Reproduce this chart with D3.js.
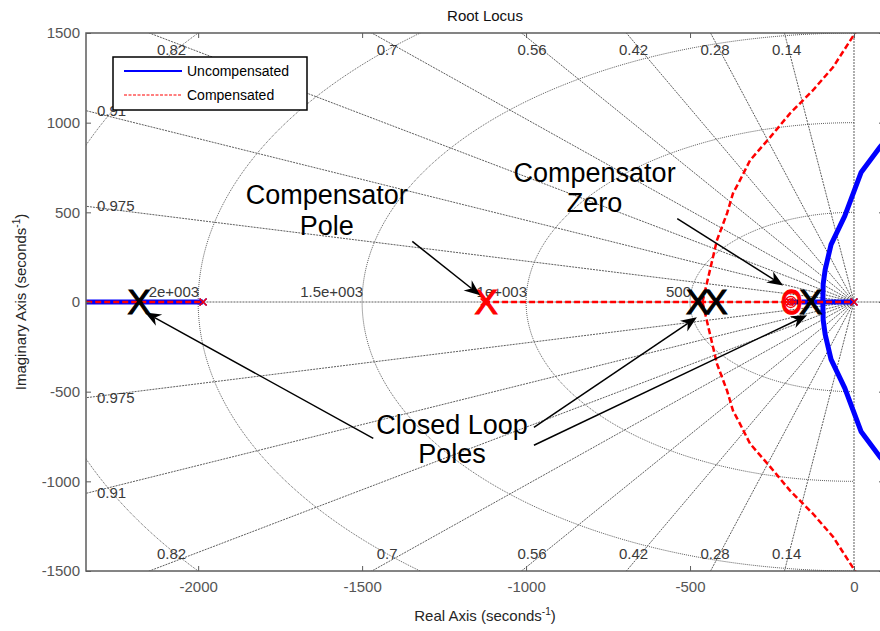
<!DOCTYPE html>
<html><head><meta charset="utf-8">
<script src="https://cdn.jsdelivr.net/npm/d3@7"></script>
<style>
body{margin:0;background:#fff}
text{font-family:"Liberation Sans",Arial,Helvetica,sans-serif}
</style>
</head><body>
<svg id="chart" width="880" height="631"></svg>
<script>
// ---------- data ----------
const xTicks = [-2000, -1500, -1000, -500, 0];
const yTicks = [-1500, -1000, -500, 0, 500, 1000, 1500];
const xTickLabels = ["-2000", "-1500", "-1000", "-500", "0"];
const yTickLabels = ["-1500", "-1000", "-500", "0", "500", "1000", "1500"];
const dampingValues = [0.14, 0.28, 0.42, 0.56, 0.7, 0.82, 0.91, 0.975];
const dampingTopLabels = [0.14, 0.28, 0.42, 0.56, 0.7, 0.82];
const dampingSideLabels = [0.91, 0.975];
const wnValues = [500, 1000, 1500, 2000, 2500];
const wnLabelValues = [500, 1000, 1500, 2000];
const wnLabelTexts = ["500", "1e+003", "1.5e+003", "2e+003"];

// uncompensated root locus (upper branch; lower branch is its mirror)
const uncompRealSegments = [[-3000, -1985], [-196, 0]];
const uncompBranchUpper = [[-95, 0], [-94, 100], [-88, 180], [-70, 320], [-28, 480], [22, 724], [80, 866], [130, 960]];
const uncompPoles = [0, -196, -1985];

// compensated root locus
const compRealSegments = [[-3000, -1985], [-1128, 0]];
const compBranchUpper = [[-462, 0], [-448, 110], [-418, 344], [-387, 495], [-369, 606], [-348, 678], [-317, 790],
  [-256, 918], [-195, 1052], [-125, 1181], [-64, 1309], [3, 1499], [15, 1530]];
const compPoles = [0, -196, -1128, -1985];
const compZeros = [-193];

// annotations (data coordinates)
const closedLoopPoles = [-2180, -477, -421, -131];
const compensatorPoleMark = [-1122];
const compensatorZeroMark = [-190];
const annotationTexts = [
  {lines: ["Compensator", "Pole"], x: -1608, y: [544, 372]},
  {lines: ["Compensator", "Zero"], x: -791, y: [668, 500]},
  {lines: ["Closed Loop", "Poles"], x: -1226, y: [-738, -900]}
];
const arrows = [
  [[-1347, 338], [-1140, 37]],
  [[-539, 465], [-216, 92]],
  [[-1466, -760], [-2162, -58]],
  [[-976, -699], [-479, -85]],
  [[-976, -799], [-143, -74]]
];
const legendItems = ["Uncompensated", "Compensated"];

// ---------- layout ----------
const svg = d3.select("#chart");
const plot = {left: 86, right: 884, top: 33, bottom: 571};
const x = d3.scaleLinear().domain([-2342, 91.5]).range([plot.left, plot.right]);
const y = d3.scaleLinear().domain([-1500, 1500]).range([plot.bottom, plot.top]);

svg.append("rect").attr("width", 880).attr("height", 631).attr("fill", "#fff");
svg.append("defs").append("clipPath").attr("id", "clip")
  .append("rect").attr("x", plot.left).attr("y", plot.top)
  .attr("width", plot.right - plot.left).attr("height", plot.bottom - plot.top);

const grid = svg.append("g").attr("clip-path", "url(#clip)");
const gridStyle = s => s.attr("fill", "none").attr("stroke", "#5e5e5e").attr("stroke-width", 1).attr("stroke-dasharray", "2,1");

// damping lines
const R = 6000;
dampingValues.forEach(z => {
  const s = Math.sqrt(1 - z * z);
  [1, -1].forEach(sg => {
    grid.append("line").attr("x1", x(0)).attr("y1", y(0))
      .attr("x2", x(-R * z)).attr("y2", y(sg * R * s)).call(gridStyle);
  });
});
grid.append("line").attr("x1", x(-R)).attr("x2", x(R)).attr("y1", y(0)).attr("y2", y(0)).call(gridStyle);
grid.append("line").attr("x1", x(0)).attr("x2", x(0)).attr("y1", y(-R)).attr("y2", y(R)).call(gridStyle);

// natural frequency circles
const arc = d3.line().x(d => x(d[0])).y(d => y(d[1]));
wnValues.forEach(wn => {
  const pts = d3.range(90, 270.01, 1).map(a => [wn * Math.cos(a * Math.PI / 180), wn * Math.sin(a * Math.PI / 180)]);
  grid.append("path").attr("d", arc(pts)).call(gridStyle).attr("stroke-dasharray", "1,1");
});

// grid labels
const lab = svg.append("g").attr("font-size", 15).attr("fill", "#3a3a3a");
wnLabelValues.forEach((wn, i) => {
  lab.append("text").attr("x", x(-wn) + 1).attr("y", y(0) - 5).attr("text-anchor", "end").text(wnLabelTexts[i]);
});
dampingTopLabels.forEach(z => {
  const k = z / Math.sqrt(1 - z * z);
  const yt = y.invert(plot.top + 8.5);
  lab.append("text").attr("x", x(-yt * k)).attr("y", plot.top + 22).attr("text-anchor", "middle").text(z);
  lab.append("text").attr("x", x(-yt * k)).attr("y", plot.bottom - 12.5).attr("text-anchor", "middle").text(z);
});
dampingSideLabels.forEach(z => {
  const t = Math.sqrt(1 - z * z) / z;
  const yl = -x.invert(plot.left) * t;
  lab.append("text").attr("x", plot.left + 11).attr("y", y(yl) + 5).text(z);
  lab.append("text").attr("x", plot.left + 11).attr("y", y(-yl) + 5).text(z);
});

// ---------- loci ----------
const data = svg.append("g").attr("clip-path", "url(#clip)");
const mirror = pts => pts.map(p => [p[0], -p[1]]);
const path = d3.line().x(d => x(d[0])).y(d => y(d[1]));

const blue = s => s.attr("fill", "none").attr("stroke", "#0000ff").attr("stroke-width", 5).attr("stroke-linejoin", "round");
uncompRealSegments.forEach(seg => data.append("path").attr("d", path([[seg[0], 0], [seg[1], 0]])).call(blue));
[uncompBranchUpper, mirror(uncompBranchUpper)].forEach(b => data.append("path").attr("d", path(b)).call(blue));

function xMark(g, px, color) {
  const s = 3.5, cx = x(px), cy = y(0);
  g.append("path").attr("d", `M${cx - s},${cy - s}L${cx + s},${cy + s}M${cx - s},${cy + s}L${cx + s},${cy - s}`)
    .attr("stroke", color).attr("stroke-width", 1.5).attr("fill", "none");
}
uncompPoles.forEach(p => xMark(data, p, "#0000ff"));

const red = s => s.attr("fill", "none").attr("stroke", "#ff0000").attr("stroke-width", 2.5).attr("stroke-dasharray", "6,3");
compRealSegments.forEach(seg => data.append("path").attr("d", path([[seg[0], 0], [seg[1], 0]])).call(red));
[compBranchUpper, mirror(compBranchUpper)].forEach(b => data.append("path").attr("d", path(b)).call(red));
compPoles.forEach(p => xMark(data, p, "#ff0000"));
compZeros.forEach(zr => {
  [5.5, 3].forEach(r => data.append("circle").attr("cx", x(zr)).attr("cy", y(0)).attr("r", r)
    .attr("fill", "none").attr("stroke", "#ff0000").attr("stroke-width", 1.3));
});

// ---------- annotations ----------
const ann = svg.append("g");
const bigFont = 35;
closedLoopPoles.forEach(p => ann.append("text").attr("x", x(p)).attr("y", y(0) + 11.5)
  .attr("text-anchor", "middle").attr("font-size", bigFont).attr("fill", "#000")
  .attr("stroke", "#000").attr("stroke-width", 1.1).text("X"));
compensatorPoleMark.forEach(p => ann.append("text").attr("x", x(p)).attr("y", y(0) + 11.5)
  .attr("text-anchor", "middle").attr("font-size", bigFont).attr("fill", "#ff0000")
  .attr("stroke", "#ff0000").attr("stroke-width", 1.1).text("X"));
compensatorZeroMark.forEach(p => ann.append("text")
  .attr("transform", `translate(${x(p)},${y(0) + 11.5}) scale(0.78,1)`)
  .attr("text-anchor", "middle").attr("font-size", bigFont).attr("fill", "#ff0000")
  .attr("stroke", "#ff0000").attr("stroke-width", 1.4).text("O"));

annotationTexts.forEach(a => a.lines.forEach((l, i) => ann.append("text")
  .attr("x", x(a.x)).attr("y", y(a.y[i])).attr("text-anchor", "middle")
  .attr("font-size", 27).attr("fill", "#000").text(l)));

function arrow(g, d0, d1) {
  const p0 = [x(d0[0]), y(d0[1])], p1 = [x(d1[0]), y(d1[1])];
  const dx = p1[0] - p0[0], dy = p1[1] - p0[1], len = Math.hypot(dx, dy);
  const ux = dx / len, uy = dy / len, nx = -uy, ny = ux;
  const L = 16, Wd = 6.5, N = 11;
  g.append("line").attr("x1", p0[0]).attr("y1", p0[1]).attr("x2", p1[0] - ux * N).attr("y2", p1[1] - uy * N)
    .attr("stroke", "#000").attr("stroke-width", 1.5);
  const pts = [[p1[0], p1[1]], [p1[0] - ux * L + nx * Wd, p1[1] - uy * L + ny * Wd],
    [p1[0] - ux * N, p1[1] - uy * N], [p1[0] - ux * L - nx * Wd, p1[1] - uy * L - ny * Wd]];
  g.append("path").attr("d", "M" + pts.map(p => p.join(",")).join("L") + "Z").attr("fill", "#000");
}
arrows.forEach(a => arrow(ann, a[0], a[1]));

// ---------- axes ----------
const ax = svg.append("g");
const styleAxis = g => {
  g.select(".domain").remove();
  g.selectAll(".tick line").attr("stroke", "#5c5c5c").attr("stroke-width", 1);
  g.selectAll(".tick text").attr("fill", "#555").attr("font-size", 15)
    .attr("font-family", '"Liberation Sans",Arial,sans-serif');
};
ax.append("g").attr("transform", `translate(0,${plot.bottom})`)
  .call(d3.axisBottom(x).tickValues(xTicks).tickSizeInner(-5).tickSizeOuter(0).tickPadding(10)
    .tickFormat((d, i) => xTickLabels[i]))
  .call(styleAxis);
ax.append("g").attr("transform", `translate(0,${plot.top})`)
  .call(d3.axisTop(x).tickValues(xTicks).tickSizeInner(-5).tickSizeOuter(0).tickFormat(""))
  .call(styleAxis);
ax.append("g").attr("transform", `translate(${plot.left},0)`)
  .call(d3.axisLeft(y).tickValues(yTicks).tickSizeInner(-5).tickSizeOuter(0).tickPadding(6)
    .tickFormat((d, i) => yTickLabels[i]))
  .call(styleAxis);
ax.append("g").attr("transform", `translate(${plot.right},0)`)
  .call(d3.axisRight(y).tickValues(yTicks).tickSizeInner(-5).tickSizeOuter(0).tickFormat(""))
  .call(styleAxis);
ax.append("rect").attr("x", plot.left).attr("y", plot.top)
  .attr("width", plot.right - plot.left).attr("height", plot.bottom - plot.top)
  .attr("fill", "none").attr("stroke", "#5c5c5c").attr("stroke-width", 1.5);

// titles
const cx = (plot.left + plot.right) / 2;
svg.append("text").attr("x", cx).attr("y", 20.5).attr("text-anchor", "middle")
  .attr("font-size", 15).attr("fill", "#111").text("Root Locus");
const xl = svg.append("text").attr("x", cx).attr("y", 621).attr("text-anchor", "middle")
  .attr("font-size", 15).attr("fill", "#262626");
xl.append("tspan").text("Real Axis (seconds");
xl.append("tspan").attr("dy", -6).attr("font-size", 10).text("-1");
xl.append("tspan").attr("dy", 6).text(")");
const yl = svg.append("text").attr("transform", `translate(26,${(plot.top + plot.bottom) / 2}) rotate(-90)`)
  .attr("text-anchor", "middle").attr("font-size", 15).attr("fill", "#262626");
yl.append("tspan").text("Imaginary Axis (seconds");
yl.append("tspan").attr("dy", -6).attr("font-size", 10).text("-1");
yl.append("tspan").attr("dy", 6).text(")");

// legend
const lg = svg.append("g");
lg.append("rect").attr("x", 113).attr("y", 57).attr("width", 194).attr("height", 53)
  .attr("fill", "#fff").attr("stroke", "#000").attr("stroke-width", 1.5);
const legendStyles = [
  {stroke: "#0000ff", width: 2, dash: null},
  {stroke: "#ff0000", width: 1.2, dash: "3,1.5"}
];
legendItems.forEach((name, i) => {
  const yy = 71 + i * 24;
  lg.append("line").attr("x1", 124).attr("x2", 182).attr("y1", yy).attr("y2", yy)
    .attr("stroke", legendStyles[i].stroke).attr("stroke-width", legendStyles[i].width)
    .attr("stroke-dasharray", legendStyles[i].dash);
  lg.append("text").attr("x", 187).attr("y", yy + 5).attr("font-size", 14).attr("fill", "#000").text(name);
});
</script>
</body></html>
